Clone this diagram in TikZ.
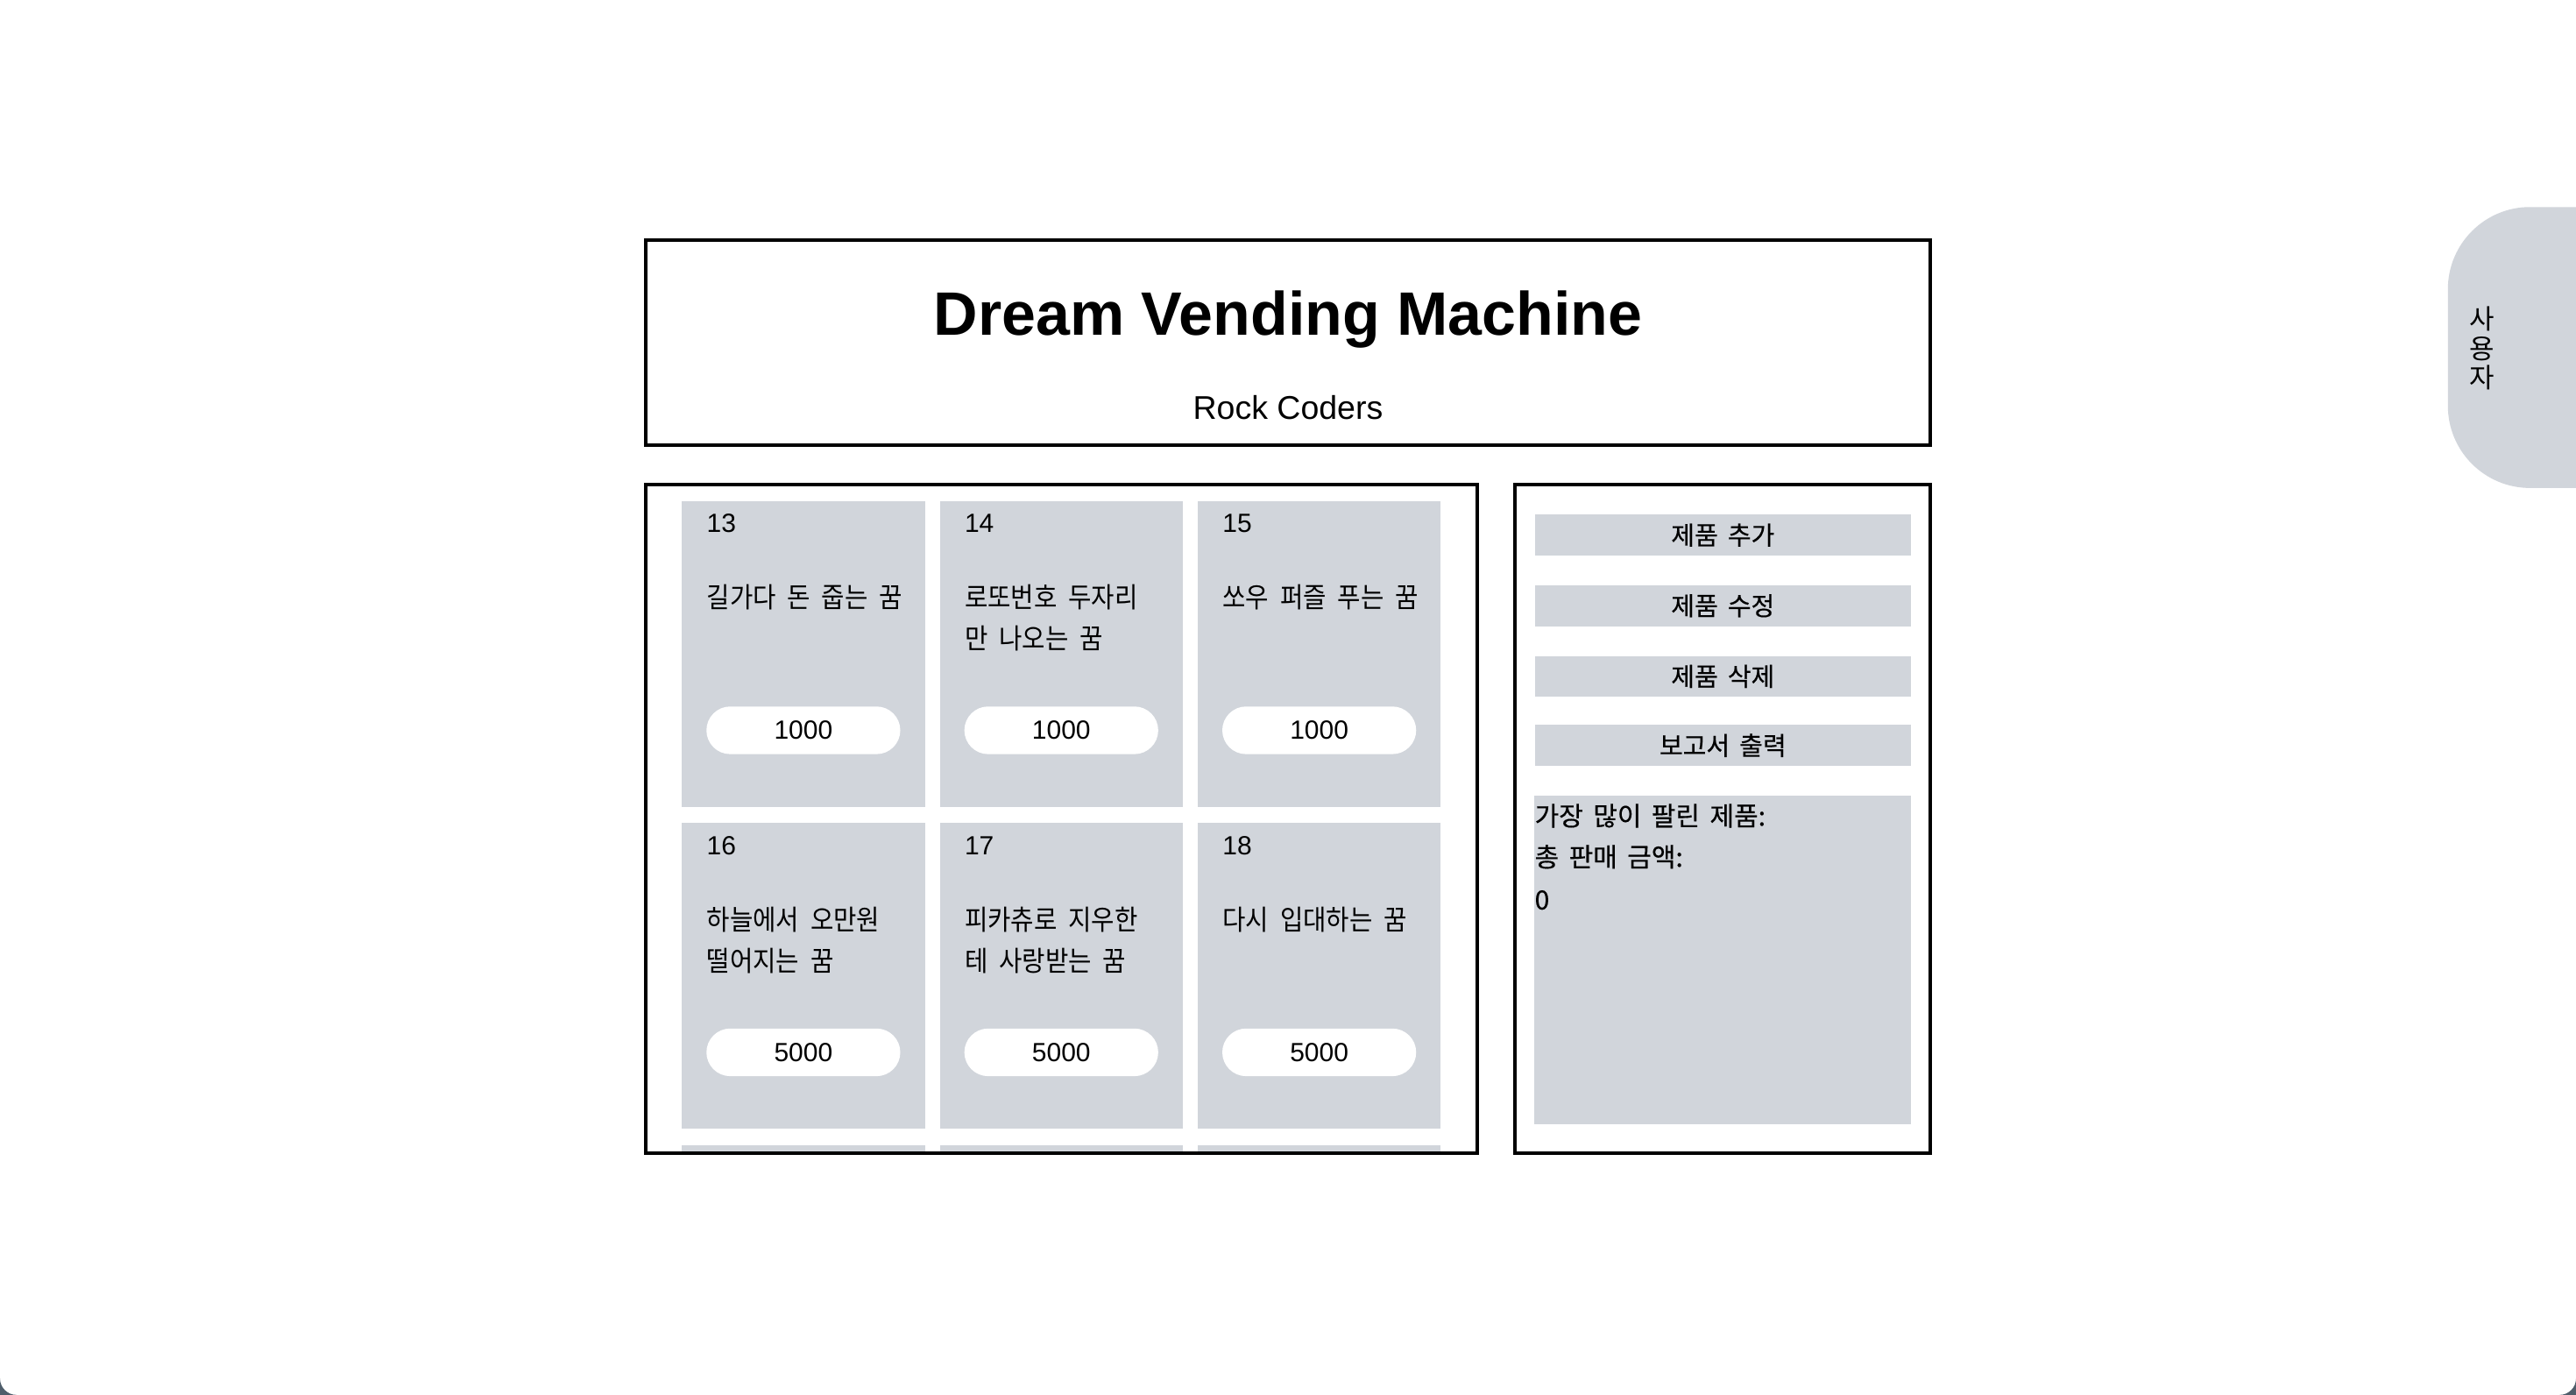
\documentclass[tikz,border=0pt]{standalone}
\usepackage{fontspec}
\setmainfont{Liberation Sans}
\newfontfamily\krc[WordSpace=2.0, FakeStretch=0.9]{Noto Sans CJK KR}
\newfontfamily\krb[WordSpace=2.0, FakeBold=0.4]{Noto Sans CJK KR}
\newfontfamily\krr[WordSpace=1.7, FakeBold=0.4]{Noto Sans CJK KR}
\newfontfamily\kr{Noto Sans CJK KR}
\definecolor{cardgray}{HTML}{D1D5DB}
\definecolor{cornerdark}{HTML}{4F5E6B}
\begin{document}
\begin{tikzpicture}[x=1pt,y=-1pt,
  frame/.style={draw=black, line width=2.2pt},
  card/.style={fill=cardgray},
  numtxt/.style={anchor=base west, inner sep=0pt, font=\fontsize{16}{19}\selectfont},
  nametxt/.style={anchor=base west, inner sep=0pt, font=\krc\fontsize{17}{19}\selectfont},
  pill/.style={fill=white, rounded corners=14.5pt, minimum width=118pt, minimum height=29pt, inner sep=0pt, font=\fontsize{16}{19}\selectfont},
  btn/.style={fill=cardgray, anchor=north west, minimum width=229pt, minimum height=25pt, inner sep=0pt, font=\krb\fontsize{15.5}{17}\selectfont},
  reptxt/.style={anchor=base west, inner sep=0pt, font=\krr\fontsize{16}{19}\selectfont}]
\useasboundingbox (0,0) rectangle (1568,849);
\fill[white] (0,0) rectangle (1568,849);
% window corners
\fill[cornerdark] (0,849) -- (0,839) .. controls (0,844.5) and (4.5,849) .. (10,849) -- cycle;
\fill[cornerdark] (1568,849) -- (1568,839) .. controls (1568,844.5) and (1563.5,849) .. (1558,849) -- cycle;

% header
\draw[frame] (393,146) rectangle (1175,271);
\node[anchor=base, inner sep=0pt, font=\bfseries\fontsize{37.3}{44}\selectfont] (title) at (784,204) {Dream Vending Machine};
\node[anchor=base, inner sep=0pt, font=\fontsize{20}{24}\selectfont] (sub) at (784,255) {Rock Coders};

% left panel cards
\foreach \n/\c/\r/\la/\lb/\p in {13/0/0/{길가다 돈 줍는 꿈}/{}/1000,
  14/1/0/{로또번호 두자리}/{만 나오는 꿈}/1000,
  15/2/0/{쏘우 퍼즐 푸는 꿈}/{}/1000,
  16/0/1/{하늘에서 오만원}/{떨어지는 꿈}/5000,
  17/1/1/{피카츄로 지우한}/{테 사랑받는 꿈}/5000,
  18/2/1/{다시 입대하는 꿈}/{}/5000}{
  \pgfmathsetmacro\L{415+157*\c}
  \pgfmathsetmacro\T{305+196*\r}
  \fill[card] (\L,\T) rectangle ++(148,186);
  \node[numtxt] (num\n) at (\L+15,\T+19) {\n};
  \node[nametxt] (namea\n) at (\L+15,\T+65) {\la};
  \node[nametxt] (nameb\n) at (\L+15,\T+90) {\lb};
  \node[pill] (price\n) at (\L+74,\T+139.5) {\p};
}
\foreach \c in {0,1,2}{
  \fill[card] (415+157*\c,697) rectangle ++(148,4);
}
\draw[frame] (393,295) rectangle (899,702);

% right panel
\draw[frame] (922,295) rectangle (1175,702);
\node[btn] (add) at (934,313) {제품 추가};
\node[btn] (edit) at (934,356) {제품 수정};
\node[btn] (del) at (934,399) {제품 삭제};
\node[btn] (report) at (934,441) {보고서 출력};
\fill[card] (934,484) rectangle (1163,684);
\node[reptxt] (best) at (934,502.5) {가장 많이 팔린 제품:};
\node[reptxt] (total) at (934,527.5) {총 판매 금액:};
\node[reptxt] (zero) at (934,553.5) {0};

% side tab
\fill[cardgray] (1568,126) -- (1540,126) .. controls (1512.4,126) and (1490,148.4) .. (1490,176) -- (1490,247) .. controls (1490,274.6) and (1512.4,297) .. (1540,297) -- (1568,297) -- cycle;
\node[align=center, inner sep=0pt, font=\kr\fontsize{16.5}{18}\selectfont] (user) at (1511,212) {사\\용\\자};
\end{tikzpicture}
\end{document}
